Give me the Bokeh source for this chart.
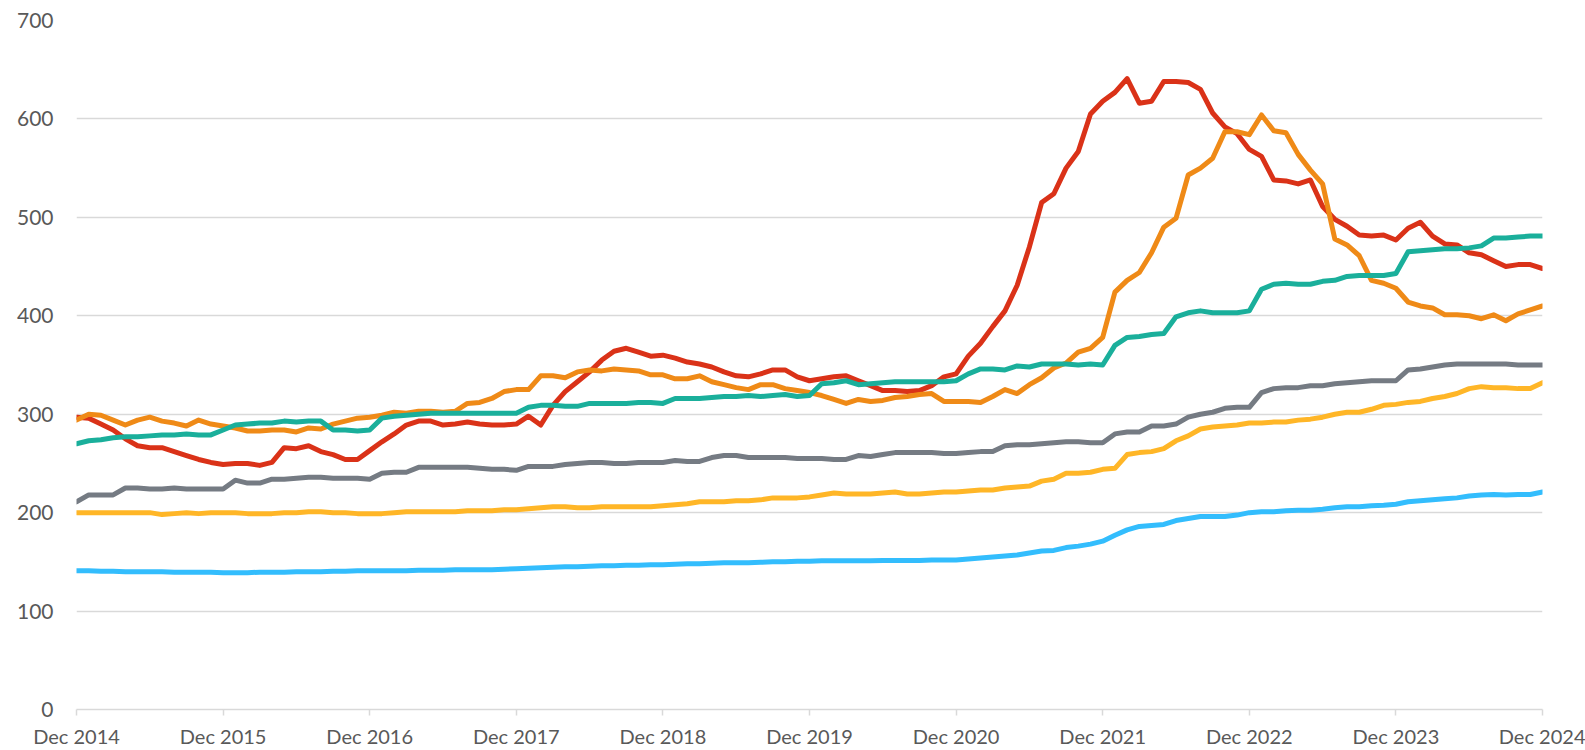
from bokeh.plotting import figure
from bokeh.models import FixedTicker, Range1d, ColumnDataSource
from bokeh.embed import file_html
from bokeh.resources import INLINE

# Monthly, Dec 2014 .. Dec 2024 (121 points)
tick_labels = ["Dec 2014", "Dec 2015", "Dec 2016", "Dec 2017", "Dec 2018", "Dec 2019",
               "Dec 2020", "Dec 2021", "Dec 2022", "Dec 2023", "Dec 2024"]

red = [297, 296, 290, 284, 275, 268, 266, 266, 262, 258, 254, 251, 249, 250, 250, 248, 251, 266, 265, 268,
       262, 259, 254, 254, 263, 272, 280, 289, 293, 293, 289, 290, 292, 290, 289, 289, 290, 298, 289, 309,
       323, 333, 343, 355, 364, 367, 363, 359, 360, 357, 353, 351, 348, 343, 339, 338, 341, 345, 345, 338,
       334, 336, 338, 339, 334, 329, 324, 324, 323, 324, 329, 338, 341, 359, 372, 389, 405, 431, 470, 515,
       524, 550, 567, 605, 618, 627, 641, 616, 618, 638, 638, 637, 630, 606, 592, 585, 569, 562, 538, 537,
       534, 538, 511, 498, 491, 482, 481, 482, 477, 489, 495, 481, 473, 472, 464, 462, 456, 450, 452, 452,
       448]

orange = [294, 300, 299, 294, 289, 294, 297, 293, 291, 288, 294, 290, 288, 286, 283, 283, 284, 284, 282, 286,
          285, 290, 293, 296, 297, 299, 302, 301, 303, 303, 302, 303, 311, 312, 316, 323, 325, 325, 339, 339,
          337, 343, 345, 344, 346, 345, 344, 340, 340, 336, 336, 339, 333, 330, 327, 325, 330, 330, 326, 324,
          322, 319, 315, 311, 315, 313, 314, 317, 318, 320, 321, 313, 313, 313, 312, 318, 325, 321, 330, 337,
          347, 352, 363, 367, 378, 424, 436, 444, 464, 490, 499, 543, 550, 560, 587, 587, 584, 604, 588, 586,
          564, 548, 534, 478, 472, 461, 436, 433, 428, 414, 410, 408, 401, 401, 400, 397, 401, 395, 402, 406,
          410]

teal = [270, 273, 274, 276, 277, 277, 278, 279, 279, 280, 279, 279, 284, 289, 290, 291, 291, 293, 292, 293,
        293, 284, 284, 283, 284, 296, 298, 299, 300, 301, 301, 301, 301, 301, 301, 301, 301, 307, 309, 309,
        308, 308, 311, 311, 311, 311, 312, 312, 311, 316, 316, 316, 317, 318, 318, 319, 318, 319, 320, 318,
        319, 331, 332, 334, 330, 331, 332, 333, 333, 333, 333, 333, 334, 341, 346, 346, 345, 349, 348, 351,
        351, 351, 350, 351, 350, 370, 378, 379, 381, 382, 399, 403, 405, 403, 403, 403, 405, 427, 432, 433,
        432, 432, 435, 436, 440, 441, 441, 441, 443, 465, 466, 467, 468, 468, 469, 471, 479, 479, 480, 481,
        481]

gray = [211, 218, 218, 218, 225, 225, 224, 224, 225, 224, 224, 224, 224, 233, 230, 230, 234, 234, 235, 236,
        236, 235, 235, 235, 234, 240, 241, 241, 246, 246, 246, 246, 246, 245, 244, 244, 243, 247, 247, 247,
        249, 250, 251, 251, 250, 250, 251, 251, 251, 253, 252, 252, 256, 258, 258, 256, 256, 256, 256, 255,
        255, 255, 254, 254, 258, 257, 259, 261, 261, 261, 261, 260, 260, 261, 262, 262, 268, 269, 269, 270,
        271, 272, 272, 271, 271, 280, 282, 282, 288, 288, 290, 297, 300, 302, 306, 307, 307, 322, 326, 327,
        327, 329, 329, 331, 332, 333, 334, 334, 334, 345, 346, 348, 350, 351, 351, 351, 351, 351, 350, 350,
        350]

yellow = [200, 200, 200, 200, 200, 200, 200, 198, 199, 200, 199, 200, 200, 200, 199, 199, 199, 200, 200, 201,
          201, 200, 200, 199, 199, 199, 200, 201, 201, 201, 201, 201, 202, 202, 202, 203, 203, 204, 205, 206,
          206, 205, 205, 206, 206, 206, 206, 206, 207, 208, 209, 211, 211, 211, 212, 212, 213, 215, 215, 215,
          216, 218, 220, 219, 219, 219, 220, 221, 219, 219, 220, 221, 221, 222, 223, 223, 225, 226, 227, 232,
          234, 240, 240, 241, 244, 245, 259, 261, 262, 265, 273, 278, 285, 287, 288, 289, 291, 291, 292, 292,
          294, 295, 297, 300, 302, 302, 305, 309, 310, 312, 313, 316, 318, 321, 326, 328, 327, 327, 326, 326,
          332]

blue = [141, 141, 140.5, 140.5, 140, 140, 140, 140, 139.5, 139.5, 139.5, 139.5, 139, 139, 139, 139.5, 139.5, 139.5, 140, 140,
        140, 140.5, 140.5, 141, 141, 141, 141, 141, 141.5, 141.5, 141.5, 142, 142, 142, 142, 142.5, 143, 143.5, 144, 144.5,
        145, 145, 145.5, 146, 146, 146.5, 146.5, 147, 147, 147.5, 148, 148, 148.5, 149, 149, 149, 149.5, 150, 150, 150.5,
        150.5, 151, 151, 151, 151, 151, 151.5, 151.5, 151.5, 151.5, 152, 152, 152, 153, 154, 155, 156, 157, 159, 161,
        161.6, 164.5, 166, 168, 171, 177, 182.5, 186, 187, 188, 192, 194, 196, 196, 196, 197.5, 200, 201, 201, 202,
        202.5, 202.5, 203.5, 205, 206, 206, 207, 207.5, 208.5, 211, 212, 213, 214, 215, 217, 218, 218.5, 218, 218.5, 218.5,
        221]

months = list(range(len(red)))

series = [
    (red, "#DA3218"),
    (orange, "#EF8A17"),
    (teal, "#1AAF9B"),
    (gray, "#757B83"),
    (yellow, "#FFB627"),
    (blue, "#33BDFD"),
]

FONT = "Lato"
LABEL_COLOR = "#595959"
GRID_COLOR = "#d9d9d9"

p = figure(width=1585, height=750, output_backend="svg", toolbar_location=None,
           x_range=Range1d(0, 120), y_range=Range1d(0, 700),
           min_border_left=76, min_border_right=43, min_border_top=20, min_border_bottom=39)
p.outline_line_color = None
p.background_fill_color = "white"
p.border_fill_color = "white"

for vals, col in series:
    src = ColumnDataSource(dict(x=months, y=vals))
    p.line("x", "y", source=src, line_color=col, line_width=5,
           line_join="round", line_cap="round")

# grid
p.xgrid.grid_line_color = None
p.ygrid.grid_line_color = GRID_COLOR
p.ygrid.grid_line_width = 1.5
p.yaxis.ticker = FixedTicker(ticks=[0, 100, 200, 300, 400, 500, 600, 700])
p.xaxis.ticker = FixedTicker(ticks=[12 * k for k in range(len(tick_labels))])
p.xaxis.major_label_overrides = {12 * k: lab for k, lab in enumerate(tick_labels)}

# y axis
p.yaxis.axis_line_color = None
p.yaxis.major_tick_line_color = None
p.yaxis.minor_tick_line_color = None
p.yaxis.major_tick_out = 0
p.yaxis.major_tick_in = 0
p.yaxis.major_label_standoff = 23
p.yaxis.major_label_text_font = FONT
p.yaxis.major_label_text_font_size = "21px"
p.yaxis.major_label_text_color = LABEL_COLOR

# x axis
p.xaxis.axis_line_color = GRID_COLOR
p.xaxis.axis_line_width = 1.5
p.xaxis.major_tick_line_color = GRID_COLOR
p.xaxis.major_tick_line_width = 1.5
p.xaxis.major_tick_out = 6
p.xaxis.major_tick_in = 0
p.xaxis.minor_tick_line_color = None
p.xaxis.major_label_standoff = 8
p.xaxis.major_label_text_font = FONT
p.xaxis.major_label_text_font_size = "20px"
p.xaxis.major_label_text_color = LABEL_COLOR

open("out.html", "w").write(file_html(p, INLINE))
